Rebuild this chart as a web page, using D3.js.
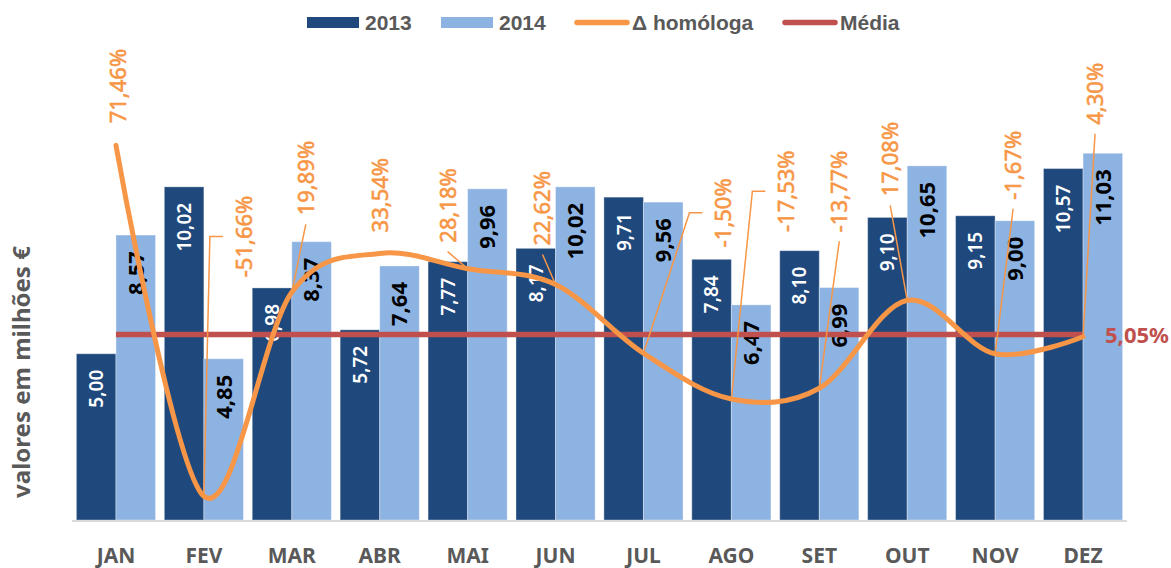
<!DOCTYPE html>
<html>
<head>
<meta charset="utf-8">
<script src="https://cdn.jsdelivr.net/npm/d3@7"></script>
<style>
  html, body { margin: 0; padding: 0; background: #fff; }
  svg { display: block; }
</style>
</head>
<body>
<div id="chart"></div>
<script>
// categorias e séries
const months = ['JAN', 'FEV', 'MAR', 'ABR', 'MAI', 'JUN', 'JUL', 'AGO', 'SET', 'OUT', 'NOV', 'DEZ'];
const v2013 = [5.00, 10.02, 6.98, 5.72, 7.77, 8.17, 9.71, 7.84, 8.10, 9.10, 9.15, 10.57];
const v2014 = [8.57, 4.85, 8.37, 7.64, 9.96, 10.02, 9.56, 6.47, 6.99, 10.65, 9.00, 11.03];
const deltaHom = [71.46, -51.66, 19.89, 33.54, 28.18, 22.62, -1.50, -17.53, -13.77, 17.08, -1.67, 4.30];
const media = 5.05;
const seriesNames = ['2013', '2014', '\u0394 homóloga', 'Média'];

// posição manual dos rótulos de % (como no Excel): dx, fundo do texto, tipo de linha guia
const pctLabelPos = [
  [2, -22, 'none'], [40, -219, 'side'], [14, -77, 'bottom'], [0, -21, 'none'],
  [-20, -26, 'bottom'], [-13, -39, 'bottom'], [80, -106, 'side'], [55, -167, 'side'],
  [20, -156, 'bottom'], [-17, -104, 'bottom'], [18, -154, 'bottom'], [12, -212, 'bottom']
];

const W = 1171, H = 568;
const C13 = '#1F497D', C14 = '#8DB3E2', CORANGE = '#F79646', CRED = '#C0504D', GRAY = '#595959';
const FONT = '"Noto Sans", "Open Sans", sans-serif';

const svg = d3.select('#chart').append('svg').attr('width', W).attr('height', H);

const plot = { left: 72, right: 1127, top: 121, bottom: 520 };

const x = d3.scaleBand().domain(months).range([plot.left, plot.right]).paddingInner(0.1).paddingOuter(0.05);
const xs = d3.scaleBand().domain(['2013', '2014']).range([0, x.bandwidth()]);
const y = d3.scaleLinear().domain([0, 12]).range([plot.bottom, plot.top]);
const y2 = d3.scaleLinear().domain([-60, 80]).range([plot.bottom, plot.top]);

const rows = months.map((m, i) => ({ m, a: v2013[i], b: v2014[i], d: deltaHom[i], pos: pctLabelPos[i] }));
const fmt = v => d3.format('.2f')(v).replace('.', ',').replace('\u2212', '-');
const cx = m => x(m) + x.bandwidth() / 2;

// barras
const g = svg.append('g');
g.selectAll('rect.b13').data(rows).join('rect')
  .attr('class', 'b13')
  .attr('x', d => x(d.m) + xs('2013')).attr('width', xs.bandwidth())
  .attr('y', d => y(d.a)).attr('height', d => y(0) - y(d.a))
  .attr('fill', C13).attr('stroke', '#ffffff').attr('stroke-opacity', 0.35).attr('stroke-width', 1);
g.selectAll('rect.b14').data(rows).join('rect')
  .attr('class', 'b14')
  .attr('x', d => x(d.m) + xs('2014')).attr('width', xs.bandwidth())
  .attr('y', d => y(d.b)).attr('height', d => y(0) - y(d.b))
  .attr('fill', C14).attr('stroke', '#ffffff').attr('stroke-opacity', 0.35).attr('stroke-width', 1);

// eixo X
svg.append('line')
  .attr('x1', plot.left).attr('x2', plot.right)
  .attr('y1', plot.bottom + 1).attr('y2', plot.bottom + 1)
  .attr('stroke', '#D9D9D9').attr('stroke-width', 2);

const xAxis = svg.append('g')
  .attr('transform', `translate(0,${plot.bottom})`)
  .call(d3.axisBottom(x).tickSize(0).tickPadding(28));
xAxis.select('.domain').remove();
xAxis.selectAll('text')
  .attr('fill', GRAY).style('font-family', FONT).style('font-size', '21px').style('font-weight', 'bold');

// rótulos das barras
g.selectAll('text.l13').data(rows).join('text')
  .attr('class', 'l13')
  .attr('transform', d => `translate(${x(d.m) + xs('2013') + xs.bandwidth() / 2},${y(d.a) + 16}) rotate(-90)`)
  .attr('text-anchor', 'end').attr('dy', '0.36em')
  .attr('fill', '#ffffff').style('font-family', FONT).style('font-size', '19px').style('font-weight', 600)
  .text(d => fmt(d.a));
g.selectAll('text.l14').data(rows).join('text')
  .attr('class', 'l14')
  .attr('transform', d => `translate(${x(d.m) + xs('2014') + xs.bandwidth() / 2},${y(d.b) + 16}) rotate(-90)`)
  .attr('text-anchor', 'end').attr('dy', '0.36em')
  .attr('fill', '#000000').style('font-family', FONT).style('font-size', '22px').style('font-weight', 'bold')
  .text(d => fmt(d.b));

// linha da média
svg.append('line')
  .attr('x1', cx(months[0])).attr('x2', cx(months[months.length - 1]))
  .attr('y1', y2(media)).attr('y2', y2(media))
  .attr('stroke', CRED).attr('stroke-width', 5.5);
svg.append('text')
  .attr('x', cx(months[months.length - 1]) + 22).attr('y', y2(media)).attr('dy', '0.36em')
  .attr('fill', CRED).style('font-family', FONT).style('font-size', '22px').style('font-weight', 'bold')
  .text(fmt(media) + '%');

// linha Δ homóloga (suavizada)
const line = d3.line().x(d => cx(d.m)).y(d => y2(d.d)).curve(d3.curveCardinal.tension(0));
svg.append('path').datum(rows)
  .attr('d', line).attr('fill', 'none')
  .attr('stroke', CORANGE).attr('stroke-width', 5).attr('stroke-linecap', 'round');

// rótulos de % com linhas guia
const lg = svg.append('g');
rows.forEach(d => {
  const px = cx(d.m), py = y2(d.d);
  const lx = px + d.pos[0], lb = py + d.pos[1];
  const t = lg.append('text')
    .attr('transform', `translate(${lx},${lb}) rotate(-90)`)
    .attr('text-anchor', 'start').attr('dy', '0.36em')
    .attr('fill', CORANGE).attr('stroke', CORANGE).attr('stroke-width', 0.6)
    .style('font-family', FONT).style('font-size', '22px')
    .text(fmt(d.d) + '%');
  const len = t.node().getComputedTextLength();
  if (d.pos[2] === 'bottom') {
    lg.append('line')
      .attr('x1', px).attr('y1', py).attr('x2', lx).attr('y2', lb + 9)
      .attr('stroke', CORANGE).attr('stroke-width', 1.5);
  } else if (d.pos[2] === 'side') {
    const my = lb - len / 2;
    lg.append('polyline')
      .attr('points', `${px},${py} ${lx - 34},${my} ${lx - 21},${my}`)
      .attr('fill', 'none').attr('stroke', CORANGE).attr('stroke-width', 1.5);
  }
});

// título eixo Y
svg.append('text')
  .attr('transform', `translate(21,${372}) rotate(-90)`)
  .attr('text-anchor', 'middle').attr('dy', '0.36em')
  .attr('fill', GRAY).style('font-family', FONT).style('font-size', '24px').style('font-weight', 'bold')
  .text('valores em milhões €');

// legenda
const legend = svg.append('g').style('font-family', '"Liberation Sans", Arial, sans-serif')
  .style('font-size', '21px').style('font-weight', 'bold');
const legItems = [
  { x: 307, kind: 'rect', color: C13 },
  { x: 441, kind: 'rect', color: C14 },
  { x: 574, kind: 'line', color: CORANGE },
  { x: 782, kind: 'line', color: CRED }
];
legItems.forEach((it, i) => {
  if (it.kind === 'rect') {
    legend.append('rect').attr('x', it.x).attr('y', 17).attr('width', 52).attr('height', 11).attr('fill', it.color);
  } else {
    legend.append('line').attr('x1', it.x + 3).attr('x2', it.x + 53).attr('y1', 22.5).attr('y2', 22.5)
      .attr('stroke', it.color).attr('stroke-width', 5.5).attr('stroke-linecap', 'round');
  }
  legend.append('text').attr('x', it.x + 58).attr('y', 30).attr('fill', GRAY).text(seriesNames[i]);
});
</script>
</body>
</html>
